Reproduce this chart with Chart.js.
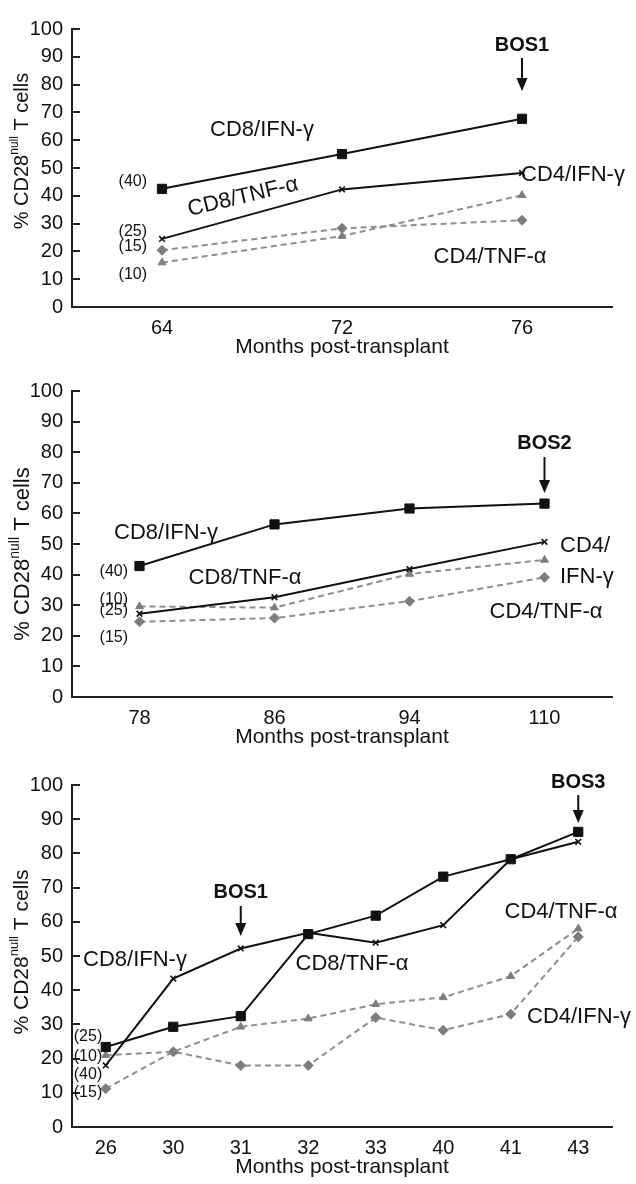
<!DOCTYPE html>
<html>
<head>
<meta charset="utf-8">
<script src="https://cdn.jsdelivr.net/npm/chart.js@4.4.0/dist/chart.umd.min.js"></script>
<style>
  body { margin: 0; background: #fff; width: 636px; height: 1184px; overflow: hidden; position: relative; }
  canvas { position: absolute; left: 0; }
</style>
</head>
<body>
<canvas id="chartA" width="636" height="362" style="top:0px"></canvas>
<canvas id="chartB" width="636" height="392" style="top:362px"></canvas>
<canvas id="chartC" width="636" height="430" style="top:754px"></canvas>
<script>
// top panel
const monthsA = ["64", "72", "76"];
const cd8IfnA = [42.5, 55, 67.7];
const cd8TnfA = [24.5, 42.3, 48.2];
const cd4IfnA = [16, 25.5, 40.2];
const cd4TnfA = [20.4, 28.3, 31.2];

// middle panel
const monthsB = ["78", "86", "94", "110"];
const cd8IfnB = [42.8, 56.4, 61.6, 63.2];
const cd8TnfB = [27.2, 32.6, 41.8, 50.7];
const cd4IfnB = [29.6, 29.2, 40.2, 44.8];
const cd4TnfB = [24.6, 25.8, 31.3, 39.1];

// bottom panel
const monthsC = ["26", "30", "31", "32", "33", "40", "41", "43"];
const cd8IfnC = [23.4, 29.3, 32.4, 56.4, 61.8, 73.2, 78.3, 86.3];
const cd8TnfC = [18, 43.4, 52.2, 56.8, 53.9, 59, 78.3, 83.4];
const cd4IfnC = [21, 22, 29.3, 31.7, 35.9, 37.9, 44.1, 58];
const cd4TnfC = [11.2, 22, 18, 18, 32, 28.3, 33, 55.6];

const FONT = '"Liberation Sans", Arial, Helvetica, sans-serif';
const INK = "#111";
const GRAY_LINE = "#8e8e8e";
const GRAY_PT = "#7d7d7d";

// draws the free text, BOS arrows and the y title
const annotate = {
  id: "annotate",
  afterDraw(chart, args, opts) {
    const ctx = chart.ctx;
    const xs = chart.scales.x;
    ctx.save();
    ctx.fillStyle = INK;
    ctx.strokeStyle = INK;
    ctx.textBaseline = "middle";

    (opts.labels || []).forEach(l => {
      ctx.save();
      ctx.font = (l.bold ? "bold " : "") + l.size + "px " + FONT;
      ctx.textAlign = l.align || "center";
      ctx.translate(l.x, l.y);
      if (l.rot) ctx.rotate(l.rot * Math.PI / 180);
      ctx.fillText(l.text, 0, 0);
      ctx.restore();
    });

    (opts.arrows || []).forEach(a => {
      const x = xs.getPixelForValue(a.index);
      ctx.font = "bold 20px " + FONT;
      ctx.textAlign = "center";
      ctx.fillText(a.text, x, a.textY);
      ctx.lineWidth = 2;
      ctx.beginPath();
      ctx.moveTo(x, a.top);
      ctx.lineTo(x, a.tip - 10);
      ctx.stroke();
      ctx.beginPath();
      ctx.moveTo(x - 5.5, a.tip - 13);
      ctx.lineTo(x + 5.5, a.tip - 13);
      ctx.lineTo(x, a.tip);
      ctx.closePath();
      ctx.fill();
    });

    // y title with superscript "null"
    const t = opts.yTitle;
    if (t) {
      const big = t.size + "px " + FONT;
      const small = Math.round(t.size * 0.62) + "px " + FONT;
      const parts = [["% CD28", big, 0], ["null", small, -t.size * 0.36], [" T cells", big, 0]];
      let total = 0;
      parts.forEach(p => { ctx.font = p[1]; total += ctx.measureText(p[0]).width; });
      ctx.save();
      ctx.translate(t.x, t.y);
      ctx.rotate(-Math.PI / 2);
      ctx.textAlign = "left";
      let cx = -total / 2;
      parts.forEach(p => {
        ctx.font = p[1];
        ctx.fillText(p[0], cx, p[2]);
        cx += ctx.measureText(p[0]).width;
      });
      ctx.restore();
    }
    ctx.restore();
  }
};

function makePanel(id, months, sq, cr, tri, dia, box, notes) {
  return new Chart(document.getElementById(id), {
    type: "line",
    data: {
      labels: months,
      datasets: [
        { label: "CD8/IFN-γ", data: sq, borderColor: INK, backgroundColor: INK, borderWidth: 2,
          pointStyle: "rect", pointRadius: 6.5, pointBorderWidth: 1 },
        { label: "CD8/TNF-α", data: cr, borderColor: INK, backgroundColor: INK, borderWidth: 2,
          pointStyle: "crossRot", pointRadius: 4, pointBorderWidth: 1.6 },
        { label: "CD4/IFN-γ", data: tri, borderColor: GRAY_LINE, borderWidth: 2, borderDash: [6, 4],
          pointStyle: "triangle", pointRadius: 4.5, pointBorderWidth: 1,
          pointBorderColor: GRAY_PT, pointBackgroundColor: GRAY_PT },
        { label: "CD4/TNF-α", data: dia, borderColor: GRAY_LINE, borderWidth: 2, borderDash: [6, 4],
          pointStyle: "rectRot", pointRadius: 5, pointBorderWidth: 1,
          pointBorderColor: GRAY_PT, pointBackgroundColor: GRAY_PT }
      ]
    },
    options: {
      responsive: false,
      animation: false,
      layout: { padding: { left: 0, right: 24, top: box.top, bottom: 0 } },
      plugins: {
        legend: { display: false },
        tooltip: { enabled: false },
        annotate: notes
      },
      scales: {
        x: {
          offset: true,
          grid: { display: false, drawTicks: false },
          border: { display: true, color: "#222", width: 2 },
          ticks: { color: INK, font: { size: 20, family: FONT }, padding: 9, maxRotation: 0, autoSkip: false },
          title: { display: true, text: "Months post-transplant", color: INK,
                   font: { size: 21, family: FONT }, padding: { top: 0, bottom: box.titlePad } },
          afterFit(s) { s.height = box.xh; }
        },
        y: {
          min: 0,
          max: 100,
          ticks: { stepSize: 10, color: INK, font: { size: 20, family: FONT }, padding: 17 },
          grid: { display: true, drawOnChartArea: false, drawTicks: true, tickLength: -8, color: "#222", lineWidth: 2 },
          border: { display: true, color: "#222", width: 2 },
          afterFit(s) { s.width = 72; }
        }
      }
    },
    plugins: [annotate]
  });
}

makePanel("chartA", monthsA, cd8IfnA, cd8TnfA, cd4IfnA, cd4TnfA,
  { top: 13, xh: 55, titlePad: 2.4 },
  {
    yTitle: { x: 22, y: 151, size: 20 },
    labels: [
      { text: "(40)", x: 147, y: 182, size: 16, align: "right" },
      { text: "(25)", x: 147, y: 232, size: 16, align: "right" },
      { text: "(15)", x: 147, y: 247, size: 16, align: "right" },
      { text: "(10)", x: 147, y: 275, size: 16, align: "right" },
      { text: "CD8/IFN-γ", x: 262, y: 130, size: 22 },
      { text: "CD8/TNF-α", x: 243, y: 197, size: 22, rot: -13.5 },
      { text: "CD4/IFN-γ", x: 521, y: 175, size: 22, align: "left" },
      { text: "CD4/TNF-α", x: 490, y: 257, size: 22 }
    ],
    arrows: [{ text: "BOS1", index: 2, textY: 45, top: 58, tip: 91 }]
  });

makePanel("chartB", monthsB, cd8IfnB, cd8TnfB, cd4IfnB, cd4TnfB,
  { top: 23, xh: 57, titlePad: 4.4 },
  {
    yTitle: { x: 23, y: 192, size: 22 },
    labels: [
      { text: "(40)", x: 128, y: 210, size: 16, align: "right" },
      { text: "(10)", x: 128, y: 238, size: 16, align: "right" },
      { text: "(25)", x: 128, y: 249, size: 16, align: "right" },
      { text: "(15)", x: 128, y: 276, size: 16, align: "right" },
      { text: "CD8/IFN-γ", x: 166, y: 171, size: 22 },
      { text: "CD8/TNF-α", x: 245, y: 216, size: 22 },
      { text: "CD4/", x: 560, y: 184, size: 22, align: "left" },
      { text: "IFN-γ", x: 560, y: 215, size: 22, align: "left" },
      { text: "CD4/TNF-α", x: 546, y: 250, size: 22 }
    ],
    arrows: [{ text: "BOS2", index: 3, textY: 81, top: 95, tip: 131 }]
  });

makePanel("chartC", monthsC, cd8IfnC, cd8TnfC, cd4IfnC, cd4TnfC,
  { top: 31, xh: 57, titlePad: 4.4 },
  {
    yTitle: { x: 22, y: 198, size: 21 },
    labels: [
      { text: "(25)", x: 88, y: 283, size: 16 },
      { text: "(10)", x: 88, y: 303, size: 16 },
      { text: "(40)", x: 88, y: 321, size: 16 },
      { text: "(15)", x: 88, y: 339, size: 16 },
      { text: "CD8/IFN-γ", x: 135, y: 206, size: 22 },
      { text: "CD8/TNF-α", x: 352, y: 210, size: 22 },
      { text: "CD4/TNF-α", x: 561, y: 158, size: 22 },
      { text: "CD4/IFN-γ", x: 527, y: 263, size: 22, align: "left" }
    ],
    arrows: [
      { text: "BOS1", index: 2, textY: 138, top: 152, tip: 182 },
      { text: "BOS3", index: 7, textY: 28, top: 41, tip: 69 }
    ]
  });
</script>
</body>
</html>
